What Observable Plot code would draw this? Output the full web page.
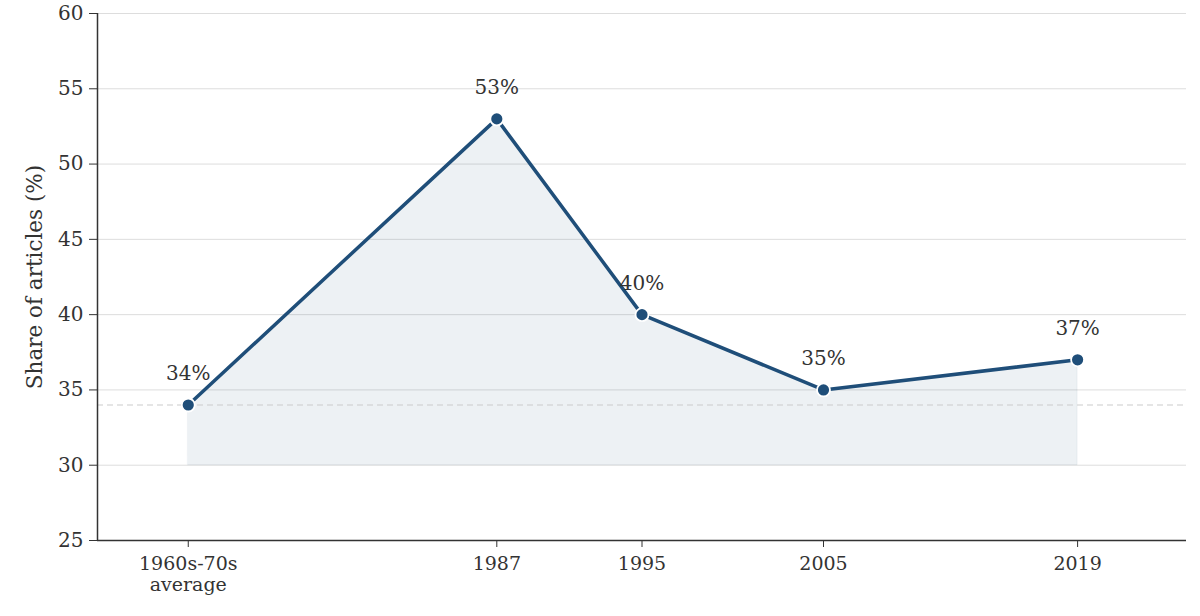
<!DOCTYPE html>
<html>
<head>
<meta charset="utf-8">
<script src="https://cdn.jsdelivr.net/npm/d3@7"></script>
<script src="https://cdn.jsdelivr.net/npm/@observablehq/plot@0.6"></script>
<style>
  html, body { margin: 0; padding: 0; background: #fff; }
  #chart svg { display: block; }
</style>
</head>
<body>
<div id="chart"></div>
<script>
const labels = ["1960s-70s\naverage", "1987", "1995", "2005", "2019"];
const years = [1970, 1987, 1995, 2005, 2019];
const shares = [34, 53, 40, 35, 37];
const yTicks = [25, 30, 35, 40, 45, 50, 55, 60];
const baselineValue = 34;
const areaFloor = 30;

const data = years.map((y, i) => ({year: y, share: shares[i], label: labels[i]}));
const labelOf = new Map(years.map((y, i) => [y, labels[i]]));

const blue = "#1f4e79";
const font = "DejaVu Serif, serif";

const chart = Plot.plot({
  width: 1200,
  height: 616,
  marginTop: 13,
  marginBottom: 76,
  marginLeft: 97,
  marginRight: 14,
  style: {fontFamily: font, color: "#333", background: "#fff"},
  x: {domain: [1965, 2025], ticks: years, tickFormat: d => labelOf.get(d)},
  y: {domain: [25, 60], ticks: yTicks},
  marks: [
    Plot.gridY(yTicks, {stroke: "#ddd", strokeOpacity: 1, strokeWidth: 1}),
    Plot.areaY(data, {x: "year", y1: areaFloor, y2: "share", fill: blue, fillOpacity: 0.08, stroke: blue, strokeOpacity: 0.06}),
    Plot.ruleY([baselineValue], {stroke: "#ccc", strokeWidth: 1.2, strokeDasharray: "6,4"}),
    Plot.line(data, {x: "year", y: "share", stroke: blue, strokeWidth: 3.5}),
    Plot.dot(data, {x: "year", y: "share", r: 6.5, fill: blue, stroke: "#fff", strokeWidth: 1.8}),
    Plot.text(data, {x: "year", y: "share", text: d => d.share + "%", dy: -31, fontSize: 20, fill: "#333", fontFamily: font}),
    Plot.axisY(yTicks, {tickSize: 8, tickPadding: 6, fontSize: 20, label: null, stroke: "#333", fill: "#333"}),
    Plot.axisX(years, {tickSize: 7, tickPadding: 8, fontSize: 19, label: null, lineHeight: 1.1, tickFormat: d => labelOf.get(d), stroke: "#333", fill: "#333"}),
    Plot.ruleX([1965], {stroke: "#333", strokeWidth: 1.5}),
    Plot.ruleY([25], {stroke: "#333", strokeWidth: 1.5}),
    Plot.text(["Share of articles (%)"], {frameAnchor: "left", textAnchor: "middle", dx: -62, rotate: -90, fontSize: 21.5, fill: "#333", fontFamily: font})
  ]
});
document.getElementById("chart").appendChild(chart);
</script>
</body>
</html>
